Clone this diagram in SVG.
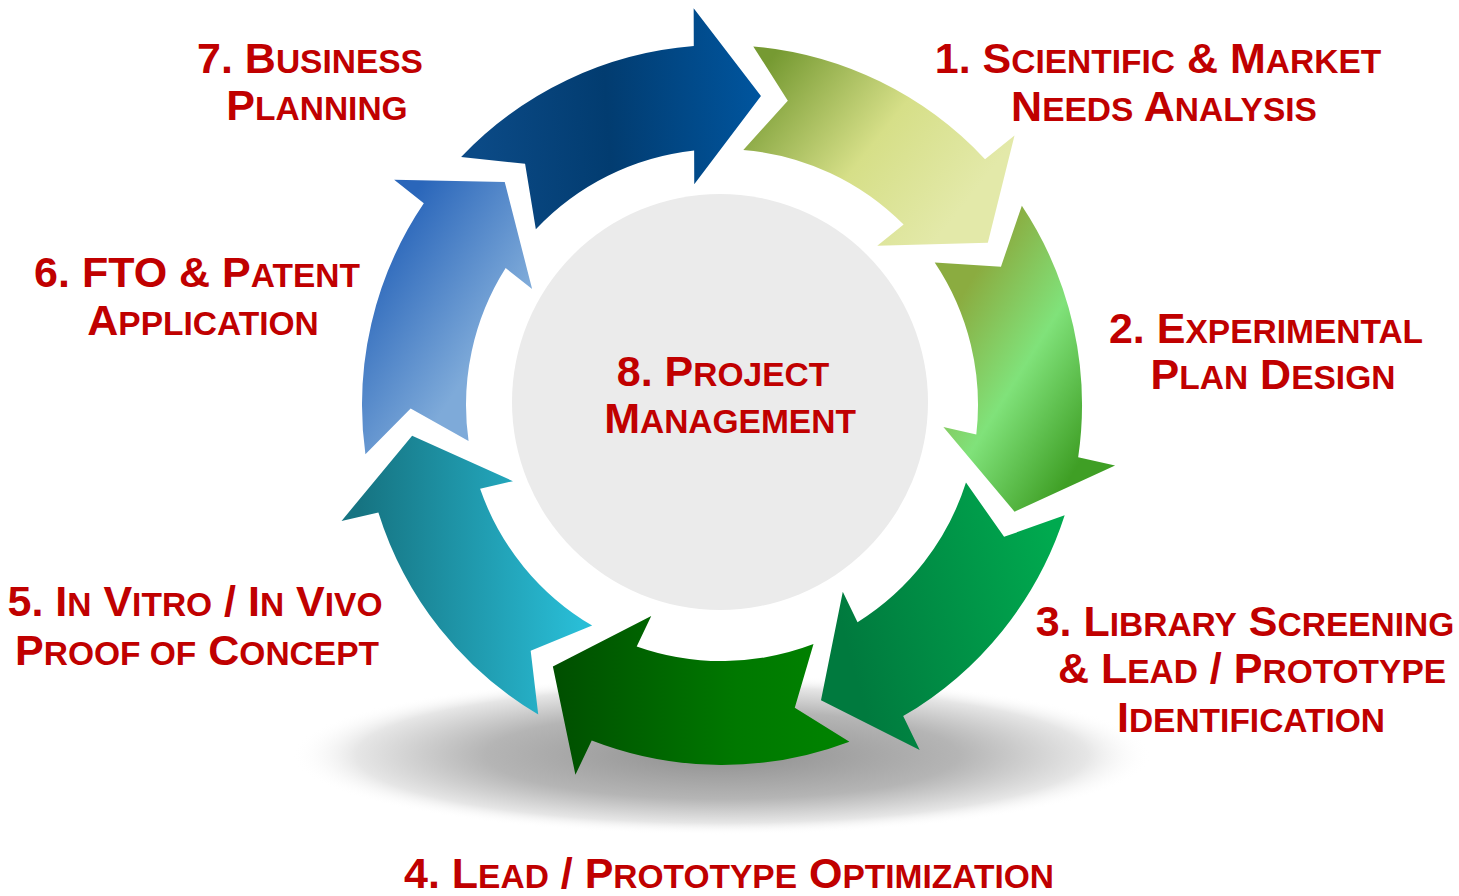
<svg xmlns="http://www.w3.org/2000/svg" width="1459" height="896" viewBox="0 0 1459 896">
<defs>
<style>
.t{font-family:"Liberation Sans",Arial,sans-serif;font-weight:bold;font-size:43px;fill:#C00000;text-anchor:middle}
.s{font-size:33.5px}
</style>
<path id="arrow" d="M270.63,-237.37 A360,360 0 0 1 359.98,4.37 L397.66,7.67 L304.16,66.74 L222.34,-7.67 L255.96,-4.73 A256,256 0 0 0 191.82,-169.51 L258.03,-174.29 Z"/>
<radialGradient id="shadowGrad" cx="0.5" cy="0.5" r="0.5">
<stop offset="0" stop-color="#8f8f8f"/>
<stop offset="0.55" stop-color="#b5b5b5"/>
<stop offset="0.85" stop-color="#e6e6e6"/>
<stop offset="1" stop-color="#ffffff" stop-opacity="0"/>
</radialGradient>
<linearGradient id="g1" gradientUnits="userSpaceOnUse" x1="770" y1="60" x2="960" y2="210" gradientTransform="rotate(-316.24) translate(-722,-405)">
<stop offset="0" stop-color="#769a32"/><stop offset="0.55" stop-color="#d6df88"/><stop offset="1" stop-color="#e3e9a9"/>
</linearGradient>
<linearGradient id="g2" gradientUnits="userSpaceOnUse" x1="940" y1="330" x2="1100" y2="430" gradientTransform="rotate(-7.66) translate(-722,-405)">
<stop offset="0" stop-color="#8bac40"/><stop offset="0.48" stop-color="#80e27a"/><stop offset="1" stop-color="#3f9f25"/>
</linearGradient>
<linearGradient id="g3" gradientUnits="userSpaceOnUse" x1="840" y1="620" x2="1060" y2="560" gradientTransform="rotate(-59.09) translate(-722,-405)">
<stop offset="0" stop-color="#007a3e"/><stop offset="1" stop-color="#00aa4f"/>
</linearGradient>
<linearGradient id="g4" gradientUnits="userSpaceOnUse" x1="560" y1="720" x2="830" y2="720" gradientTransform="rotate(-110.52) translate(-722,-405)">
<stop offset="0" stop-color="#005000"/><stop offset="0.65" stop-color="#007800"/><stop offset="1" stop-color="#008200"/>
</linearGradient>
<linearGradient id="g5" gradientUnits="userSpaceOnUse" x1="360" y1="560" x2="580" y2="560" gradientTransform="rotate(-161.95) translate(-722,-405)">
<stop offset="0" stop-color="#167482"/><stop offset="1" stop-color="#29bdd6"/>
</linearGradient>
<linearGradient id="g6" gradientUnits="userSpaceOnUse" x1="370" y1="260" x2="490" y2="340" gradientTransform="rotate(-213.38) translate(-722,-405)">
<stop offset="0" stop-color="#2a66ba"/><stop offset="1" stop-color="#7eaad9"/>
</linearGradient>
<linearGradient id="g7" gradientUnits="userSpaceOnUse" x1="480" y1="170" x2="770" y2="150" gradientTransform="rotate(-264.81) translate(-722,-405)">
<stop offset="0" stop-color="#0b4a86"/><stop offset="0.45" stop-color="#023c70"/><stop offset="1" stop-color="#0056a0"/>
</linearGradient>
</defs>
<rect width="1459" height="896" fill="#ffffff"/>
<g id="shadow">
<ellipse cx="722" cy="755" rx="430" ry="80" fill="url(#shadowGrad)"/>
</g>
<g id="step-8-project-management">
<circle cx="720" cy="402" r="208" fill="#ebebeb"/>
<text class="t" x="723" y="386">8. P<tspan class="s">ROJECT</tspan></text>
<text class="t" x="730" y="433">M<tspan class="s">ANAGEMENT</tspan></text>
</g>
<g id="step-1-needs-analysis">
<use href="#arrow" fill="url(#g1)" transform="translate(722,405) rotate(316.24)"/>
<text class="t" x="1158" y="73">1. S<tspan class="s">CIENTIFIC</tspan> &amp; M<tspan class="s">ARKET</tspan></text>
<text class="t" x="1164" y="121">N<tspan class="s">EEDS</tspan> A<tspan class="s">NALYSIS</tspan></text>
</g>
<g id="step-2-plan-design">
<use href="#arrow" fill="url(#g2)" transform="translate(722,405) rotate(7.66)"/>
<text class="t" x="1266" y="343">2. E<tspan class="s">XPERIMENTAL</tspan></text>
<text class="t" x="1273" y="389">P<tspan class="s">LAN</tspan> D<tspan class="s">ESIGN</tspan></text>
</g>
<g id="step-3-library-screening">
<use href="#arrow" fill="url(#g3)" transform="translate(722,405) rotate(59.09)"/>
<text class="t" x="1245" y="636">3. L<tspan class="s">IBRARY</tspan> S<tspan class="s">CREENING</tspan></text>
<text class="t" x="1252" y="683">&amp; L<tspan class="s">EAD</tspan> / P<tspan class="s">ROTOTYPE</tspan></text>
<text class="t" x="1251" y="732">I<tspan class="s">DENTIFICATION</tspan></text>
</g>
<g id="step-4-optimization">
<use href="#arrow" fill="url(#g4)" transform="translate(722,405) rotate(110.52)"/>
<text class="t" x="729" y="888">4. L<tspan class="s">EAD</tspan> / P<tspan class="s">ROTOTYPE</tspan> O<tspan class="s">PTIMIZATION</tspan></text>
</g>
<g id="step-5-proof-of-concept">
<use href="#arrow" fill="url(#g5)" transform="translate(722,405) rotate(161.95)"/>
<text class="t" x="195" y="616">5. I<tspan class="s">N</tspan> V<tspan class="s">ITRO</tspan> / I<tspan class="s">N</tspan> V<tspan class="s">IVO</tspan></text>
<text class="t" x="197" y="665">P<tspan class="s">ROOF OF</tspan> C<tspan class="s">ONCEPT</tspan></text>
</g>
<g id="step-6-patent">
<use href="#arrow" fill="url(#g6)" transform="translate(722,405) rotate(213.38)"/>
<text class="t" x="197" y="287">6. FTO &amp; P<tspan class="s">ATENT</tspan></text>
<text class="t" x="203" y="335">A<tspan class="s">PPLICATION</tspan></text>
</g>
<g id="step-7-business-planning">
<use href="#arrow" fill="url(#g7)" transform="translate(722,405) rotate(264.81)"/>
<text class="t" x="310" y="73">7. B<tspan class="s">USINESS</tspan></text>
<text class="t" x="317" y="120">P<tspan class="s">LANNING</tspan></text>
</g>
</svg>
